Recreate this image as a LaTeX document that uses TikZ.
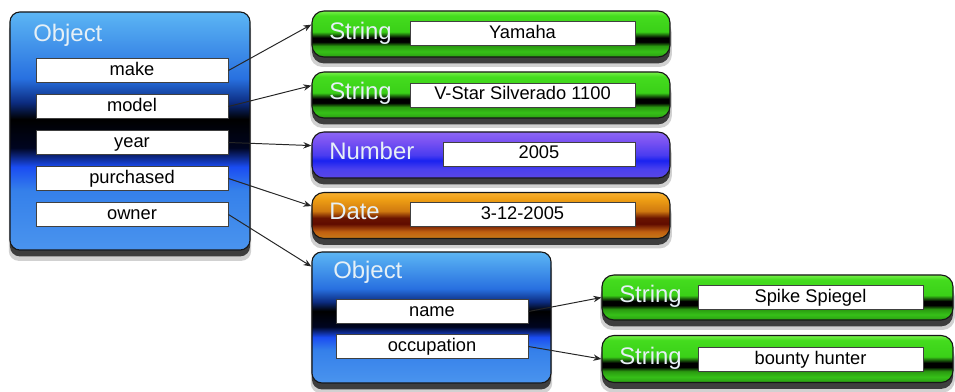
\documentclass[tikz,border=0pt]{standalone}
\usepackage{fontspec}
\setmainfont{Liberation Sans}
\usetikzlibrary{arrows.meta,shadows}

\definecolor{rim}{HTML}{161616}
\definecolor{lbl}{HTML}{E6F0F6}
% stops for the glossy fills (bottom to top)
\definecolor{bA}{HTML}{4A94EE}\definecolor{bB}{HTML}{3580EA}\definecolor{bC}{HTML}{1A4CF2}
\definecolor{bD}{HTML}{000520}\definecolor{bE}{HTML}{0C2C80}\definecolor{bF}{HTML}{2870E0}
\definecolor{bG}{HTML}{5CB6F4}
\definecolor{gA}{HTML}{2A9E12}\definecolor{gB}{HTML}{36C018}\definecolor{gC}{HTML}{2A9A10}
\definecolor{gD}{HTML}{3AD018}\definecolor{gE}{HTML}{44DC1E}\definecolor{gF}{HTML}{78F04A}
\definecolor{pA}{HTML}{5A46E6}\definecolor{pB}{HTML}{4A40EE}\definecolor{pC}{HTML}{1A22F0}
\definecolor{pD}{HTML}{4A3CF0}\definecolor{pE}{HTML}{7A52F2}\definecolor{pF}{HTML}{8C66F6}
\definecolor{oA}{HTML}{C87A18}\definecolor{oB}{HTML}{C06010}\definecolor{oC}{HTML}{600C00}
\definecolor{oD}{HTML}{6A1400}\definecolor{oE}{HTML}{D07A10}\definecolor{oF}{HTML}{EE9E14}
\definecolor{oG}{HTML}{F8B030}

% the path is mapped onto 25bp..75bp
\pgfdeclareverticalshading{glossblue}{100bp}{color(0bp)=(bA); color(25bp)=(bA);
  color(37.5bp)=(bB); color(42.5bp)=(bC); color(46.5bp)=(bD); color(52.5bp)=(black);
  color(56bp)=(bE); color(61bp)=(bF); color(75bp)=(bG); color(100bp)=(bG)}
\pgfdeclareverticalshading{glossgreen}{100bp}{color(0bp)=(gA); color(25bp)=(gA);
  color(31bp)=(gB); color(37bp)=(gC); color(41.5bp)=(black); color(46bp)=(black);
  color(52.5bp)=(gD); color(70bp)=(gE); color(75bp)=(gF); color(100bp)=(gF)}
\pgfdeclareverticalshading{glosspurple}{100bp}{color(0bp)=(pA); color(25bp)=(pA);
  color(35bp)=(pB); color(44bp)=(pC); color(50bp)=(pD); color(65bp)=(pE);
  color(75bp)=(pF); color(100bp)=(pF)}
\pgfdeclareverticalshading{glossorange}{100bp}{color(0bp)=(oA); color(25bp)=(oA);
  color(32.5bp)=(oB); color(41bp)=(oC); color(47.5bp)=(oD); color(55bp)=(oE);
  color(67.5bp)=(oF); color(75bp)=(oG); color(100bp)=(oG)}

\begin{document}
\begin{tikzpicture}[
  x=0.025cm, y=-0.025cm,
  font=\fontsize{13}{15}\selectfont,
  panel/.style  = {draw=rim, line width=0.8pt, shade, inner sep=0pt,
                   drop shadow={shadow xshift=0pt, shadow yshift=-2.4mm, shadow scale=1.01,
                                opacity=0.18, fill=black},
                   drop shadow={shadow xshift=0pt, shadow yshift=-1.6mm, opacity=0.7, fill=black}},
  objbox/.style = {panel, shading=glossblue, rounded corners=2.5mm, minimum width=6cm},
  valbox/.style = {panel, rounded corners=3mm, minimum width=8.95cm, minimum height=1.15cm},
  slot/.style   = {draw=black!75, line width=0.6pt, fill=white, inner sep=0pt,
                   minimum height=0.6cm, text height=9.4pt, text depth=2.7pt},
  kslot/.style  = {slot, minimum width=4.8cm},
  vslot/.style  = {slot, minimum width=5.625cm},
  tname/.style  = {font=\fontsize{17}{20}\selectfont, text=lbl, anchor=base west, inner sep=0pt},
  arr/.style    = {-{Stealth[length=2mm,width=1.6mm]}, line width=0.7pt, black!85}]

\useasboundingbox (0,0) rectangle (955,392);

% the outer object and its keys
\node[objbox, minimum height=5.95cm] (car) at (130,131) {};
\node[tname] (carlbl) at (33,41.5) {Object};
\foreach \k/\t [count=\i] in {make/make, model/model, year/year, buy/purchased, owner/owner}
  \node[kslot] (\k) at (132,34.5+36*\i) {\t};

% values of the outer object
\node[valbox, shading=glossgreen]  (vmake)  at (491,34)    {};
\node[valbox, shading=glossgreen]  (vmodel) at (491,95)    {};
\node[valbox, shading=glosspurple] (vyear)  at (491,155)   {};
\node[valbox, shading=glossorange] (vbuy)   at (491,215.5) {};

\node[tname] (vmakelbl)  at (329,39.5) {String};
\node[tname] (vmodellbl) at (329,100)  {String};
\node[tname] (vyearlbl)  at (329,159.5) {Number};
\node[tname] (vbuylbl)   at (329,220)  {Date};

\node[vslot] (vmaketxt)  at (522.5,33.5) {Yamaha};
\node[vslot] (vmodeltxt) at (522.5,95)   {V-Star Silverado 1100};
\node[kslot] (vyeartxt)  at (539,154)    {2005};
\node[vslot] (vbuytxt)   at (522.5,214.5) {3-12-2005};

% the nested owner object
\node[objbox, minimum width=5.975cm, minimum height=3.275cm] (person) at (431.5,317.5) {};
\node[tname] (personlbl) at (333,279) {Object};
\node[kslot] (name) at (432,311.5) {name};
\node[kslot] (job)  at (432,346.5) {occupation};

\node[valbox, shading=glossgreen, minimum width=8.775cm, minimum height=1.125cm] (vname) at (777.5,297.5) {};
\node[valbox, shading=glossgreen, minimum width=8.775cm, minimum height=1.175cm] (vjob)  at (777.5,359) {};
\node[tname] (vnamelbl) at (619,303) {String};
\node[tname] (vjoblbl)  at (619,365) {String};
\node[vslot] (vnametxt) at (810.5,297.5) {Spike Spiegel};
\node[vslot] (vjobtxt)  at (810.5,359.5) {bounty hunter};

% references
\draw[arr] (make.east)  -- (vmake.177);
\draw[arr] (model.east) -- (vmodel.177);
\draw[arr] (year.east)  -- (vyear.177);
\draw[arr] (buy.east)   -- (vbuy.177);
\draw[arr] (owner.east) -- (person.157);
\draw[arr] (name.east)  -- (vname.west);
\draw[arr] (job.east)   -- (vjob.west);

\end{tikzpicture}
\end{document}
